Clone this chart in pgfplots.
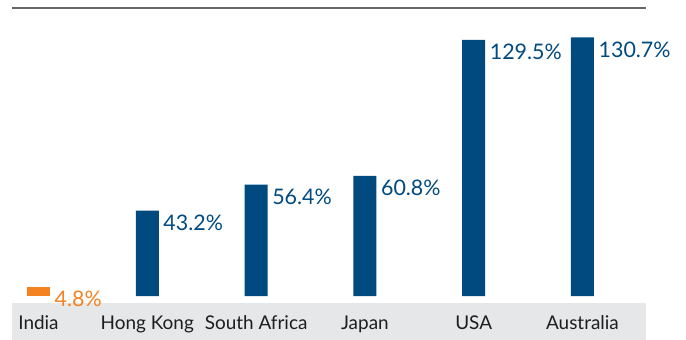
\documentclass[border=0pt]{standalone}
\usepackage{fontspec}
\setmainfont{Lato}
\usepackage{pgfplots}
\pgfplotsset{compat=1.18}
\definecolor{barblue}{RGB}{0,74,128}
\definecolor{barorange}{RGB}{245,130,32}
\definecolor{bandgray}{RGB}{230,231,232}
\definecolor{txt}{RGB}{30,30,30}
\begin{document}
\begin{tikzpicture}
\useasboundingbox (0,0) rectangle (686bp,340bp);
\begin{axis}[
  axis on top,
  at={(12bp,0.5bp)}, anchor=south west,
  scale only axis, width=634bp, height=331.5bp,
  xmin=-0.2436, xmax=5.584, ymin=-21.9, ymax=145.6,
  axis line style={draw=none}, tick style={draw=none},
  ytick=\empty,
  xtick={0,1,2,3,4,5},
  xticklabels={India,Hong Kong,South Africa,Japan,USA,Australia},
  xticklabel style={anchor=base, yshift=14.5bp, font=\fontsize{19}{22}\selectfont, text=txt},
  ybar, bar width=23bp, bar shift=0pt,
  clip=false,
  point meta=explicit symbolic,
  nodes near coords,
  every node near coord/.append style={anchor=north west, inner sep=0pt, xshift=16bp, yshift=-4bp, font=\fontsize{21.5}{24}\selectfont},
]
\fill[bandgray] (axis cs:-0.2436,-21.9) rectangle (axis cs:5.584,-3.5);
\draw[gray!80!black, line width=1.1bp] (axis cs:-0.2436,145.6) -- (axis cs:5.584,145.6);
\addplot[fill=barorange, draw=none, every node near coord/.append style={text=barorange}] coordinates {(0,4.8) [4.8\%]};
\addplot[fill=barblue, draw=none, every node near coord/.append style={text=barblue}] coordinates {
(1,43.2) [43.2\%]
(2,56.4) [56.4\%]
(3,60.8) [60.8\%]
(4,129.5) [129.5\%]
(5,130.7) [130.7\%]
};
\end{axis}
\end{tikzpicture}
\end{document}
